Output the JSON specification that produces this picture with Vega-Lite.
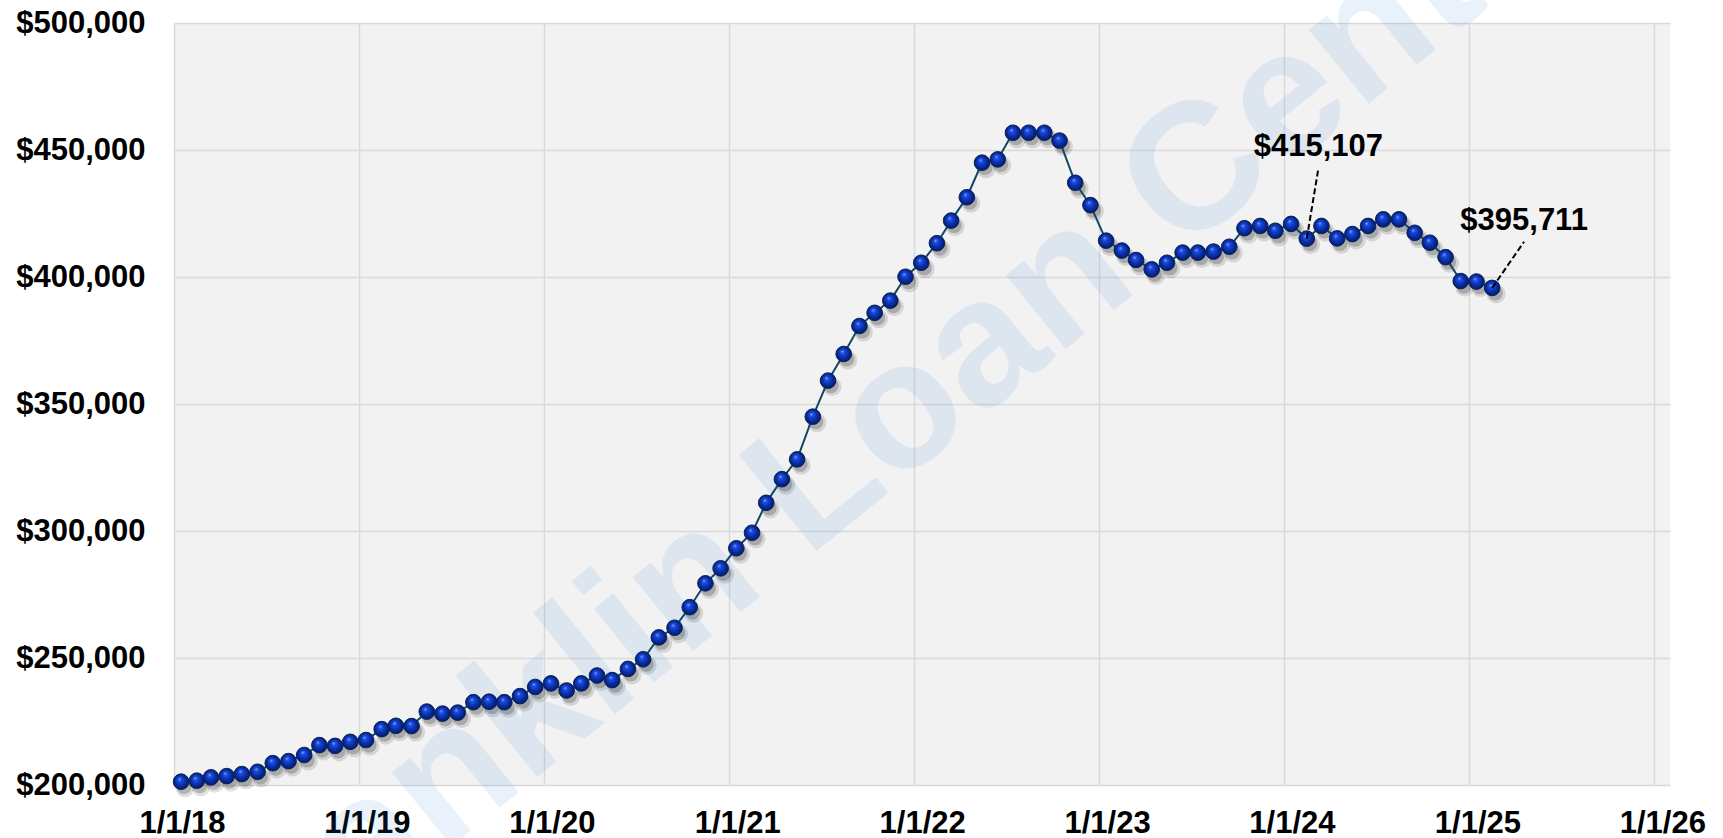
{
  "$schema": "https://vega.github.io/schema/vega-lite/v6.json",
  "width": 1496,
  "height": 762,
  "autosize": "none",
  "padding": {"left": 174, "top": 23, "right": 53, "bottom": 53},
  "background": "#ffffff",
  "config": {"view": {"fill": "#f2f2f2", "stroke": null}},
  "data": {"values": [
    {"date": "2018-01-15", "value": 201300},
    {"date": "2018-02-15", "value": 201700},
    {"date": "2018-03-15", "value": 203000},
    {"date": "2018-04-15", "value": 203500},
    {"date": "2018-05-15", "value": 204300},
    {"date": "2018-06-15", "value": 205200},
    {"date": "2018-07-15", "value": 208600},
    {"date": "2018-08-15", "value": 209400},
    {"date": "2018-09-15", "value": 211800},
    {"date": "2018-10-15", "value": 215700},
    {"date": "2018-11-15", "value": 215400},
    {"date": "2018-12-15", "value": 217000},
    {"date": "2019-01-15", "value": 217700},
    {"date": "2019-02-15", "value": 222000},
    {"date": "2019-03-15", "value": 223300},
    {"date": "2019-04-15", "value": 223200},
    {"date": "2019-05-15", "value": 228900},
    {"date": "2019-06-15", "value": 228100},
    {"date": "2019-07-15", "value": 228500},
    {"date": "2019-08-15", "value": 232600},
    {"date": "2019-09-15", "value": 232800},
    {"date": "2019-10-15", "value": 232600},
    {"date": "2019-11-15", "value": 235000},
    {"date": "2019-12-15", "value": 238600},
    {"date": "2020-01-15", "value": 240000},
    {"date": "2020-02-15", "value": 237200},
    {"date": "2020-03-15", "value": 240000},
    {"date": "2020-04-15", "value": 243100},
    {"date": "2020-05-15", "value": 241300},
    {"date": "2020-06-15", "value": 245700},
    {"date": "2020-07-15", "value": 249500},
    {"date": "2020-08-15", "value": 258100},
    {"date": "2020-09-15", "value": 261900},
    {"date": "2020-10-15", "value": 270000},
    {"date": "2020-11-15", "value": 279400},
    {"date": "2020-12-15", "value": 285300},
    {"date": "2021-01-15", "value": 293200},
    {"date": "2021-02-15", "value": 299300},
    {"date": "2021-03-15", "value": 311100},
    {"date": "2021-04-15", "value": 320400},
    {"date": "2021-05-15", "value": 328200},
    {"date": "2021-06-15", "value": 345000},
    {"date": "2021-07-15", "value": 359200},
    {"date": "2021-08-15", "value": 369700},
    {"date": "2021-09-15", "value": 380700},
    {"date": "2021-10-15", "value": 385900},
    {"date": "2021-11-15", "value": 390700},
    {"date": "2021-12-15", "value": 400100},
    {"date": "2022-01-15", "value": 405600},
    {"date": "2022-02-15", "value": 413300},
    {"date": "2022-03-15", "value": 422200},
    {"date": "2022-04-15", "value": 431400},
    {"date": "2022-05-15", "value": 445000},
    {"date": "2022-06-15", "value": 446300},
    {"date": "2022-07-15", "value": 456800},
    {"date": "2022-08-15", "value": 456800},
    {"date": "2022-09-15", "value": 456800},
    {"date": "2022-10-15", "value": 453700},
    {"date": "2022-11-15", "value": 437100},
    {"date": "2022-12-15", "value": 428300},
    {"date": "2023-01-15", "value": 414300},
    {"date": "2023-02-15", "value": 410400},
    {"date": "2023-03-15", "value": 406700},
    {"date": "2023-04-15", "value": 403000},
    {"date": "2023-05-15", "value": 405600},
    {"date": "2023-06-15", "value": 409600},
    {"date": "2023-07-15", "value": 409600},
    {"date": "2023-08-15", "value": 410000},
    {"date": "2023-09-15", "value": 411900},
    {"date": "2023-10-15", "value": 419200},
    {"date": "2023-11-15", "value": 420100},
    {"date": "2023-12-15", "value": 418200},
    {"date": "2024-01-15", "value": 420900},
    {"date": "2024-02-15", "value": 415107},
    {"date": "2024-03-15", "value": 420100},
    {"date": "2024-04-15", "value": 415200},
    {"date": "2024-05-15", "value": 416900},
    {"date": "2024-06-15", "value": 420100},
    {"date": "2024-07-15", "value": 422700},
    {"date": "2024-08-15", "value": 422700},
    {"date": "2024-09-15", "value": 417400},
    {"date": "2024-10-15", "value": 413500},
    {"date": "2024-11-15", "value": 407800},
    {"date": "2024-12-15", "value": 398400},
    {"date": "2025-01-15", "value": 398200},
    {"date": "2025-02-15", "value": 395711}
  ]},
  "encoding": {
    "x": {
      "field": "date",
      "type": "temporal",
      "title": null,
      "scale": {
        "type": "utc",
        "domain": [
          {"year": 2018, "month": 1, "date": 1, "utc": true},
          {"year": 2026, "month": 2, "date": 1, "utc": true}
        ]
      },
      "axis": {
        "values": [
          {"year": 2018, "month": 1, "date": 1, "utc": true},
          {"year": 2019, "month": 1, "date": 1, "utc": true},
          {"year": 2020, "month": 1, "date": 1, "utc": true},
          {"year": 2021, "month": 1, "date": 1, "utc": true},
          {"year": 2022, "month": 1, "date": 1, "utc": true},
          {"year": 2023, "month": 1, "date": 1, "utc": true},
          {"year": 2024, "month": 1, "date": 1, "utc": true},
          {"year": 2025, "month": 1, "date": 1, "utc": true},
          {"year": 2026, "month": 1, "date": 1, "utc": true}
        ],
        "labelExpr": "utcFormat(datum.value, '%-m/%-d/%y')",
        "labelFont": "Liberation Sans",
        "labelFontWeight": "bold",
        "labelFontSize": 31,
        "labelColor": "#000000",
        "labelPadding": 23,
        "labelOffset": 8,
        "labelFlush": false,
        "labelBound": false,
        "labelOverlap": false,
        "ticks": false,
        "domain": false,
        "grid": true,
        "gridColor": "#d9d9d9",
        "gridWidth": 1.5
      }
    },
    "y": {
      "field": "value",
      "type": "quantitative",
      "title": null,
      "scale": {"domain": [200000, 500000], "nice": false, "zero": false},
      "axis": {
        "values": [200000, 250000, 300000, 350000, 400000, 450000, 500000],
        "format": "$,.0f",
        "labelFont": "Liberation Sans",
        "labelFontWeight": "bold",
        "labelFontSize": 31,
        "labelColor": "#000000",
        "labelPadding": 29,
        "labelFlush": false,
        "labelBound": false,
        "labelOverlap": false,
        "ticks": false,
        "domain": false,
        "grid": true,
        "gridColor": "#d9d9d9",
        "gridWidth": 1.5
      }
    }
  },
  "layer": [
    {
      "data": {"values": [{"date": "2021-11-14", "value": 342900, "label": "Franklin Loan Center"}]},
      "mark": {
        "type": "text",
        "font": "Liberation Sans",
        "fontWeight": "bold",
        "fontSize": 180,
        "angle": -39,
        "align": "center",
        "baseline": "middle",
        "fill": "#2a7fd6",
        "fillOpacity": 0.1
      },
      "encoding": {
        "text": {"field": "label"}
      }
    },
    {
      "mark": {"type": "circle", "color": "#000000", "opacity": 0.12, "size": 360, "xOffset": 4, "yOffset": 6}
    },
    {
      "mark": {"type": "circle", "color": "#000000", "opacity": 0.2, "size": 230, "xOffset": 3, "yOffset": 5}
    },
    {
      "mark": {"type": "line", "color": "#124663", "strokeWidth": 2}
    },
    {
      "mark": {
        "type": "circle",
        "size": 245,
        "opacity": 1,
        "fill": {
          "gradient": "radial",
          "x1": 0.4, "y1": 0.33, "r1": 0.0,
          "x2": 0.5, "y2": 0.5, "r2": 0.55,
          "stops": [
            {"offset": 0, "color": "#8fb0ff"},
            {"offset": 0.2, "color": "#1f50e0"},
            {"offset": 0.55, "color": "#0a30b0"},
            {"offset": 1, "color": "#041650"}
          ]
        },
        "stroke": "#0a2455",
        "strokeWidth": 1
      }
    },
    {
      "data": {"values": [{"date": "2024-02-15", "value": 415107, "label": "$415,107"}]},
      "layer": [
        {
          "mark": {"type": "rule", "color": "#000000", "strokeWidth": 2, "strokeDash": [6, 3]},
          "encoding": {
            "x2": {"datum": {"year": 2024, "month": 3, "date": 9, "utc": true}},
            "y2": {"datum": 442800}
          }
        },
        {
          "mark": {"type": "text", "font": "Liberation Sans", "fontWeight": "bold", "fontSize": 31, "color": "#000000", "align": "center", "baseline": "alphabetic", "dy": -12},
          "encoding": {
            "x": {"datum": {"year": 2024, "month": 3, "date": 9, "utc": true}, "type": "temporal"},
            "y": {"datum": 442800, "type": "quantitative"},
            "text": {"field": "label"}
          }
        }
      ]
    },
    {
      "data": {"values": [{"date": "2025-02-15", "value": 395711, "label": "$395,711"}]},
      "layer": [
        {
          "mark": {"type": "rule", "color": "#000000", "strokeWidth": 2, "strokeDash": [6, 3]},
          "encoding": {
            "x2": {"datum": {"year": 2025, "month": 4, "date": 19, "utc": true}},
            "y2": {"datum": 413900}
          }
        },
        {
          "mark": {"type": "text", "font": "Liberation Sans", "fontWeight": "bold", "fontSize": 31, "color": "#000000", "align": "center", "baseline": "alphabetic", "dy": -12},
          "encoding": {
            "x": {"datum": {"year": 2025, "month": 4, "date": 19, "utc": true}, "type": "temporal"},
            "y": {"datum": 413900, "type": "quantitative"},
            "text": {"field": "label"}
          }
        }
      ]
    }
  ]
}
